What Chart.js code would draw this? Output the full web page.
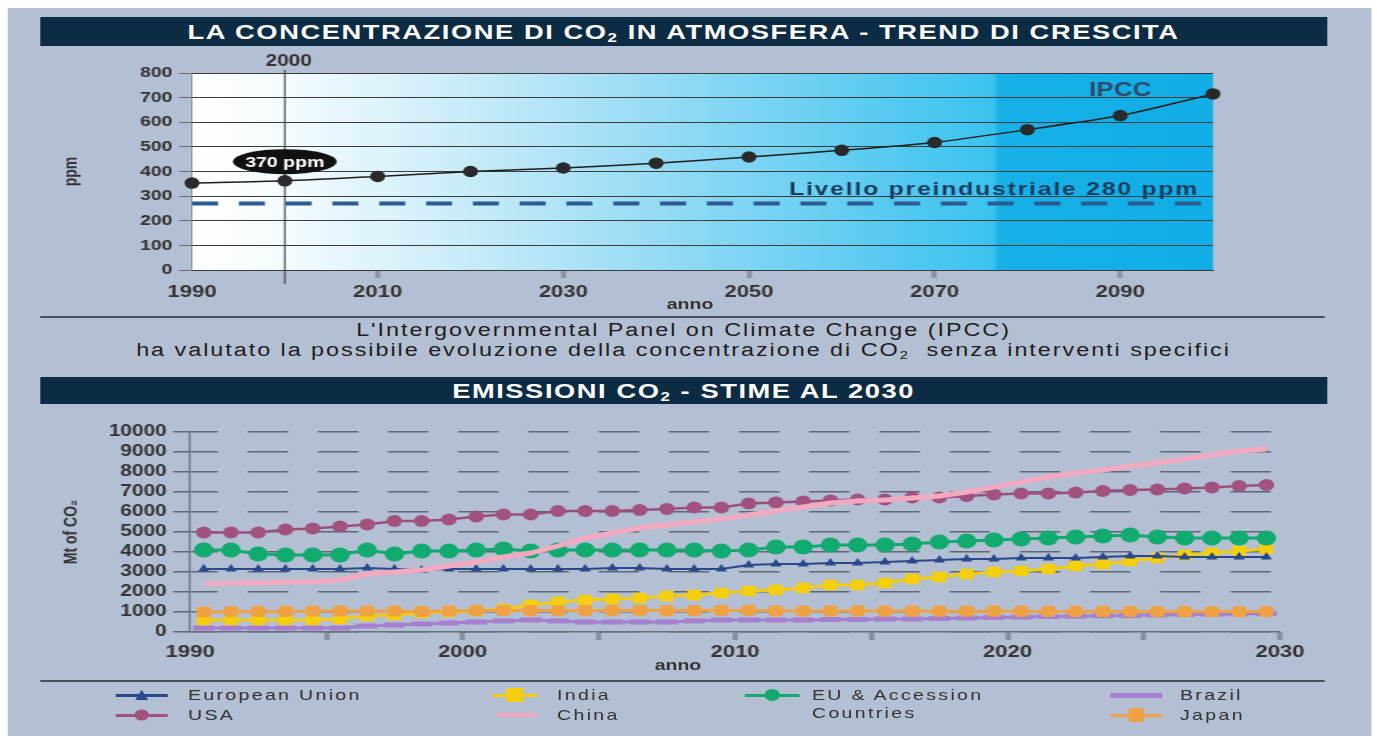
<!DOCTYPE html>
<html lang="it">
<head>
<meta charset="utf-8">
<title>CO2</title>
<script src="https://cdn.jsdelivr.net/npm/chart.js@4.4.1/dist/chart.umd.min.js"></script>
<style>
html,body{margin:0;padding:0;background:#fff;overflow:hidden}
body{width:1377px;height:736px;position:relative;font-family:"Liberation Sans",Arial,sans-serif;color:#2a2a2a}
/* the reference is stretched sideways, so the whole page is laid out narrower and widened */
#stage{position:absolute;left:0;top:0;width:1059.2px;height:736px;transform:scaleX(1.3);transform-origin:0 0}
.panel{position:absolute;left:6.2px;top:8px;width:1049.2px;height:728px;background:#b3bfd3}
.bar{position:absolute;left:30.8px;width:990px;background:#0c2c44;color:#fff;font-weight:bold;text-align:center;white-space:nowrap;letter-spacing:1.2px}
.bar sub,.cap sub{font-size:0.62em;vertical-align:-0.25em;line-height:0}
.rule{position:absolute;left:30.8px;width:988.5px;height:2px;background:#46505e}
.cap{position:absolute;left:30.8px;width:990px;text-align:center;font-size:18px;line-height:20px;letter-spacing:1.5px;color:#1e1e1e;white-space:nowrap}
.box{position:absolute}
.anno{position:absolute;width:100px;text-align:center;font-weight:bold;font-size:16px;color:#333}
.key{position:absolute;height:16px}
.key .ln{position:absolute;left:0;right:0;top:50%;height:3px;margin-top:-1.5px}
.key .mk{position:absolute;left:50%;top:50%;transform:translate(-50%,-50%)}
.lbl{position:absolute;font-size:15px;line-height:18px;letter-spacing:1.8px;color:#333;white-space:nowrap}
</style>
</head>
<body>
<div id="stage">
  <div class="panel"></div>

  <div class="bar" style="top:17px;height:29px;line-height:29px;font-size:21px">LA CONCENTRAZIONE DI CO<sub>2</sub> IN ATMOSFERA - TREND DI CRESCITA</div>

  <div class="box" style="left:42px;top:50px;width:998px;height:265px"><canvas id="ipccChart"></canvas></div>
  <div class="anno" style="left:480.8px;top:295px;font-size:15px">anno</div>

  <div class="rule" style="top:316px"></div>
  <div class="cap" style="top:320px">L'Intergovernmental Panel on Climate Change (IPCC)<br>ha valutato la possibile evoluzione della concentrazione di CO<sub>2</sub>&nbsp; senza interventi specifici</div>

  <div class="bar" style="top:377px;height:27px;line-height:27px;font-size:21px">EMISSIONI CO<sub>2</sub> - STIME AL 2030</div>

  <div class="box" style="left:42px;top:410px;width:998px;height:270px"><canvas id="emissionChart"></canvas></div>
  <div class="anno" style="left:471.5px;top:656px;font-size:15px">anno</div>

  <div class="rule" style="top:680px"></div>

  <!-- legend -->
  <div class="key" style="left:88.5px;top:687px;width:40.7px"><span class="ln" style="background:#28498a"></span><span class="mk" style="width:0;height:0;border-left:5.5px solid transparent;border-right:5.5px solid transparent;border-bottom:10px solid #28498a"></span></div>
  <div class="lbl" style="left:144.6px;top:686px">European Union</div>
  <div class="key" style="left:88.5px;top:707px;width:40.7px"><span class="ln" style="background:#a2527f"></span><span class="mk" style="width:11px;height:11px;border-radius:50%;background:#a2527f"></span></div>
  <div class="lbl" style="left:144.6px;top:706px">USA</div>

  <div class="key" style="left:379.2px;top:687px;width:33.8px"><span class="ln" style="background:#f6cf0c"></span><span class="mk" style="width:13px;height:14px;background:#f6cf0c"></span></div>
  <div class="lbl" style="left:428.5px;top:686px">India</div>
  <div class="key" style="left:382.3px;top:707px;width:30.8px"><span class="ln" style="background:#f4a9c2;height:4px;margin-top:-2px"></span></div>
  <div class="lbl" style="left:428.5px;top:706px">China</div>

  <div class="key" style="left:573.1px;top:687px;width:42.3px"><span class="ln" style="background:#13a96f"></span><span class="mk" style="width:12px;height:12px;border-radius:50%;background:#13a96f"></span></div>
  <div class="lbl" style="left:624.6px;top:686px">EU &amp; Accession<br>Countries</div>

  <div class="key" style="left:853.8px;top:687px;width:40px"><span class="ln" style="background:#a77fd0;height:5px;margin-top:-2.5px"></span></div>
  <div class="lbl" style="left:907.7px;top:686px">Brazil</div>
  <div class="key" style="left:853.8px;top:707px;width:40px"><span class="ln" style="background:#eea244"></span><span class="mk" style="width:12px;height:14px;border-radius:2px;background:#eea244"></span></div>
  <div class="lbl" style="left:907.7px;top:706px">Japan</div>
</div>

<script>
// ---- IPCC concentration (ppm) ----
const topYears = [1990, 2000, 2010, 2020, 2030, 2040, 2050, 2060, 2070, 2080, 2090, 2100]
const ipccPpm = [353, 362, 380, 400, 414, 434, 459, 486, 518, 570, 627, 715]
const preindustrialPpm = 270
const topXTicks = [1990, 2010, 2030, 2050, 2070, 2090]

// ---- CO2 emissions (Mt) ----
const emissionYears = [
1990, 1991, 1992, 1993, 1994, 1995, 1996, 1997, 1998, 1999,
2000, 2001, 2002, 2003, 2004, 2005, 2006, 2007, 2008, 2009,
2010, 2011, 2012, 2013, 2014, 2015, 2016, 2017, 2018, 2019,
2020, 2021, 2022, 2023, 2024, 2025, 2026, 2027, 2028, 2029]

const euValues = [
3150, 3150, 3150, 3150, 3150, 3150, 3200, 3150, 3100, 3150,
3150, 3150, 3150, 3150, 3150, 3200, 3200, 3150, 3150, 3150,
3350, 3400, 3400, 3450, 3450, 3500, 3550, 3600, 3650, 3650,
3700, 3700, 3700, 3750, 3800, 3800, 3750, 3750, 3750, 3750]

const usaValues = [
4970, 4970, 4970, 5130, 5180, 5270, 5380, 5550, 5550, 5630,
5770, 5880, 5880, 6050, 6050, 6050, 6100, 6150, 6220, 6220,
6430, 6470, 6520, 6570, 6630, 6630, 6720, 6720, 6800, 6880,
6930, 6930, 6980, 7050, 7100, 7130, 7180, 7220, 7300, 7350]

const indiaValues = [
600, 600, 600, 600, 600, 650, 800, 850, 950, 1000,
1050, 1150, 1350, 1500, 1600, 1650, 1700, 1800, 1850, 1950,
2050, 2100, 2200, 2350, 2350, 2450, 2650, 2750, 2900, 3000,
3050, 3150, 3300, 3400, 3550, 3700, 3850, 3950, 4050, 4150]

const chinaValues = [
2400, 2450, 2450, 2500, 2500, 2600, 2900, 3000, 3100, 3300,
3500, 3750, 3950, 4300, 4700, 4950, 5200, 5350, 5500, 5650,
5850, 6050, 6250, 6450, 6550, 6600, 6700, 6800, 7000, 7250,
7500, 7750, 7950, 8100, 8300, 8450, 8650, 8850, 9050, 9150]

const euAccValues = [
4100, 4100, 3900, 3850, 3850, 3850, 4100, 3900, 4050, 4050,
4100, 4150, 4050, 4100, 4100, 4100, 4100, 4100, 4100, 4050,
4100, 4250, 4250, 4350, 4350, 4350, 4400, 4500, 4550, 4600,
4650, 4700, 4750, 4800, 4850, 4750, 4700, 4700, 4700, 4700]

const brazilValues = [
200, 200, 200, 200, 200, 200, 300, 350, 400, 450,
500, 550, 600, 550, 500, 500, 500, 500, 550, 600,
600, 600, 600, 620, 620, 650, 650, 680, 700, 720,
750, 770, 790, 810, 830, 850, 870, 890, 910, 930]

const japanValues = [
1000, 1020, 1030, 1030, 1050, 1050, 1050, 1050, 1030, 1050,
1080, 1080, 1070, 1070, 1080, 1080, 1080, 1070, 1070, 1080,
1080, 1060, 1050, 1050, 1060, 1050, 1050, 1040, 1040, 1040,
1040, 1030, 1030, 1030, 1030, 1020, 1020, 1020, 1020, 1020]

const bottomXTicks = [1990, 1995, 2000, 2005, 2010, 2015, 2020, 2025, 2030]
const bottomXLabels = [1990, 2000, 2010, 2020, 2030]

const FONT = '"Liberation Sans", Arial, sans-serif'
Chart.defaults.font.family = FONT

/* ======================
   TOP CHART
====================== */

const plotGradient = {
id:'plotGradient',
beforeDraw(chart){
const {ctx, chartArea:{left, top, right, bottom}} = chart
const g = ctx.createLinearGradient(left, 0, right, 0)
g.addColorStop(0, '#ffffff')
g.addColorStop(0.1, '#f2fbfe')
g.addColorStop(0.3, '#c0e9f8')
g.addColorStop(0.5, '#8ad8f4')
g.addColorStop(0.7, '#52c9f1')
g.addColorStop(0.785, '#3ac3ef')
g.addColorStop(0.79, '#17b1e8')
g.addColorStop(1, '#11ade6')
ctx.save()
ctx.fillStyle = g
ctx.fillRect(left, top, right - left, bottom - top)
ctx.restore()
}
}

const ipccNotes = {
id:'ipccNotes',
beforeDatasetsDraw(chart){
const {ctx, chartArea, scales:{x}} = chart
const px = x.getPixelForValue(2000)
ctx.save()
ctx.strokeStyle = '#4a4a4a'
ctx.lineWidth = 1.2
ctx.beginPath()
ctx.moveTo(px, chartArea.top - 3)
ctx.lineTo(px, chartArea.bottom + 14)
ctx.stroke()
ctx.fillStyle = '#333'
ctx.font = 'bold 16px ' + FONT
ctx.textAlign = 'center'
ctx.textBaseline = 'middle'
ctx.fillText('2000', px + 3, chartArea.top - 11)
ctx.restore()
},
afterDatasetsDraw(chart){
const {ctx, scales:{x, y}} = chart
ctx.save()
// 370 ppm badge
const bx = x.getPixelForValue(2000), by = y.getPixelForValue(440)
ctx.fillStyle = '#111'
ctx.beginPath()
ctx.ellipse(bx, by, 40, 12.5, 0, 0, Math.PI * 2)
ctx.fill()
ctx.fillStyle = '#fff'
ctx.font = 'bold 15px ' + FONT
ctx.textAlign = 'center'
ctx.textBaseline = 'middle'
ctx.fillText('370 ppm', bx, by + 1)
// labels
ctx.fillStyle = '#2d4a68'
ctx.font = 'bold 20px ' + FONT
ctx.fillText('IPCC', x.getPixelForValue(2090), y.getPixelForValue(728))
ctx.fillStyle = '#1b3a5a'
ctx.font = 'bold 19px ' + FONT
ctx.letterSpacing = '1.4px'
ctx.textAlign = 'right'
ctx.fillText('Livello preindustriale 280 ppm', x.getPixelForValue(2098.5), y.getPixelForValue(325))
ctx.letterSpacing = '0px'
ctx.restore()
}
}

new Chart(document.getElementById('ipccChart'), {

type:'line',

data:{
datasets:[{
label:'IPCC',
data:topYears.map((yr, i) => ({x:yr, y:ipccPpm[i]})),
borderColor:'#1e1e1e',
borderWidth:1.5,
pointRadius:5,
pointBackgroundColor:'#2a2a2a',
pointBorderColor:'#2a2a2a',
tension:0.25,
clip:false,
order:0
},{
label:'Livello preindustriale',
data:[{x:topYears[0], y:preindustrialPpm}, {x:topYears[topYears.length - 1], y:preindustrialPpm}],
borderColor:'#2b5b90',
borderWidth:4,
borderDash:[20, 16],
pointRadius:0,
order:1
}]
},

options:{
responsive:true,
maintainAspectRatio:false,
animation:false,
layout:{padding:{top:23, right:106.9, left:0, bottom:0}},
plugins:{legend:{display:false}, tooltip:{enabled:false}},
scales:{
x:{
type:'linear',
min:1990,
max:2100,
afterBuildTicks:s => { s.ticks = topXTicks.map(v => ({value:v})) },
afterFit:s => { s.height = 45 },
grid:{
drawOnChartArea:false,
tickLength:8,
tickWidth:4,
tickColor:c => (c.tick && c.tick.value === 1990) ? 'rgba(0,0,0,0)' : '#8b94a4'
},
border:{color:'#3c3c3c', width:1},
ticks:{
color:'#333',
font:{size:17, weight:'bold'},
padding:4,
maxRotation:0,
autoSkip:false,
callback:v => String(v)
}
},
y:{
min:0,
max:800,
afterFit:s => { s.width = 105.7 },
grid:{color:'#3c3c3c', lineWidth:1, tickLength:10, tickColor:'#6a6a6a'},
border:{color:'#8a8a8a'},
ticks:{stepSize:100, autoSkip:false, color:'#333', font:{size:15, weight:'bold'}, padding:5, callback:v => String(v)},
title:{display:true, text:'ppm', color:'#333', font:{size:14, weight:'bold'}, padding:{top:5}}
}
}
},

plugins:[plotGradient, ipccNotes]

})

/* ======================
   BOTTOM CHART
====================== */

function series(values){
return emissionYears.map((yr, i) => ({x:yr + 0.5, y:values[i]}))
}

new Chart(document.getElementById('emissionChart'), {

type:'line',

data:{
datasets:[{
label:'China',
data:series(chinaValues),
borderColor:'#f4a9c2',
borderWidth:5,
pointRadius:0,
order:0
},{
label:'EU & Accession Countries',
data:series(euAccValues),
borderColor:'#13a96f',
borderWidth:3,
pointRadius:7.5,
pointBackgroundColor:'#12ab6f',
pointBorderWidth:0,
order:1
},{
label:'USA',
data:series(usaValues),
borderColor:'#9c4e7c',
borderWidth:2.5,
pointRadius:6,
pointBackgroundColor:'#a2527f',
pointBorderWidth:0,
order:2
},{
label:'European Union',
data:series(euValues),
borderColor:'#28498a',
borderWidth:2,
pointStyle:'triangle',
pointRadius:5,
pointBackgroundColor:'#28498a',
pointBorderWidth:0,
order:3
},{
label:'Japan',
data:series(japanValues),
borderColor:'#eea244',
borderWidth:3,
pointStyle:'rectRounded',
pointRadius:6.5,
pointBackgroundColor:'#eea244',
pointBorderWidth:0,
order:4
},{
label:'India',
data:series(indiaValues),
borderColor:'#f3cc10',
borderWidth:3,
pointStyle:'rect',
pointRadius:7.5,
pointBackgroundColor:'#f6cf0c',
pointBorderWidth:0,
order:5
},{
label:'Brazil',
data:series(brazilValues),
borderColor:'#a77fd0',
borderWidth:3,
pointStyle:'line',
pointRadius:8,
pointBorderWidth:5,
order:6
}]
},

options:{
responsive:true,
maintainAspectRatio:false,
animation:false,
layout:{padding:{top:22, right:55.4, left:0, bottom:0}},
plugins:{legend:{display:false}, tooltip:{enabled:false}},
scales:{
x:{
type:'linear',
min:1990,
max:2030,
afterBuildTicks:s => { s.ticks = bottomXTicks.map(v => ({value:v})) },
afterFit:s => { s.height = 48 },
grid:{
drawOnChartArea:false,
tickLength:8,
tickWidth:4,
tickColor:c => (c.tick && c.tick.value === 1990) ? 'rgba(0,0,0,0)' : '#858e9e'
},
border:{color:'#69717e', width:1.5},
ticks:{
color:'#333',
font:{size:17, weight:'bold'},
padding:2,
maxRotation:0,
autoSkip:false,
callback:v => bottomXLabels.includes(v) ? String(v) : ''
}
},
y:{
min:0,
max:10000,
afterFit:s => { s.width = 104.2 },
grid:{color:'#5f6775', lineWidth:1.5, tickLength:13, tickColor:'#5f6775'},
border:{color:'#6f7785', width:1.5, dash:[31, 23], dashOffset:10},
ticks:{stepSize:1000, autoSkip:false, color:'#333', font:{size:16, weight:'bold'}, padding:5, callback:v => String(v)},
title:{display:true, text:'Mt of CO\u2082', color:'#333', font:{size:14, weight:'bold'}, padding:{top:5}}
}
}
}

})
</script>
</body>
</html>
